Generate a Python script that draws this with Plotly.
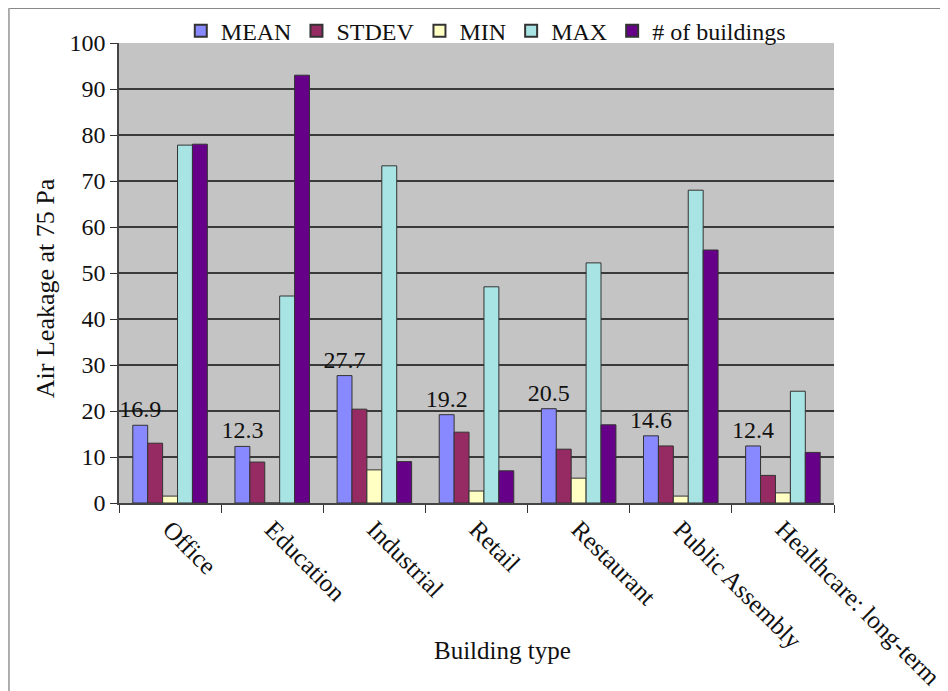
import plotly.graph_objects as go

categories = ["Office", "Education", "Industrial", "Retail", "Restaurant",
              "Public Assembly", "Healthcare: long-term"]
mean_vals = [16.9, 12.3, 27.7, 19.2, 20.5, 14.6, 12.4]
stdev_vals = [13.0, 8.9, 20.4, 15.4, 11.7, 12.4, 6.0]
min_vals = [1.5, 0.0, 7.2, 2.6, 5.4, 1.5, 2.2]
max_vals = [77.8, 45.0, 73.3, 47.0, 52.2, 68.0, 24.3]
n_buildings = [78, 93, 9, 7, 17, 55, 11]
y_ticks = [0, 10, 20, 30, 40, 50, 60, 70, 80, 90, 100]

FONT = "Liberation Serif, Times New Roman, serif"
series = [
    ("MEAN", mean_vals, "#8888FF"),
    ("STDEV", stdev_vals, "#962A62"),
    ("MIN", min_vals, "#FFFFC4"),
    ("MAX", max_vals, "#A8E4E4"),
    ("# of buildings", n_buildings, "#660088"),
]

fig = go.Figure()
for name, vals, color in series:
    kw = {}
    if name == "MEAN":
        kw = dict(text=[f"{v:.1f}" for v in vals], textposition="outside",
                  textfont=dict(family=FONT, size=24, color="#111111"),
                  cliponaxis=False, constraintext="none")
    fig.add_trace(go.Bar(x=categories, y=vals, name=name,
                         marker=dict(color=color, line=dict(color="#333333", width=1)),
                         **kw))

fig.update_layout(
    width=948, height=691,
    barmode="group", bargap=0.27, bargroupgap=0,
    plot_bgcolor="#C4C4C4", paper_bgcolor="white",
    margin=dict(l=111, r=122, t=35, b=196, autoexpand=False),
    font=dict(family=FONT, size=22, color="#111111"),
    showlegend=True,
    legend=dict(orientation="h", xref="container", yref="container",
                x=0.504, xanchor="center", y=0.999, yanchor="top",
                font=dict(family=FONT, size=24), itemwidth=30,
                bgcolor="rgba(0,0,0,0)", traceorder="normal",
                tracegroupgap=0, itemsizing="constant"),
    xaxis=dict(tickangle=45, ticks="outside", tickson="boundaries", ticklen=8,
               tickcolor="#333333", showline=True, linecolor="#444444", linewidth=1.5,
               automargin=False, tickfont=dict(family=FONT, size=25)),
    yaxis=dict(range=[0, 100], tickvals=y_ticks, ticks="outside", ticklen=7,
               tickcolor="#333333", showline=True, linecolor="#444444", linewidth=1.5,
               showgrid=True, gridcolor="#3A3A3A", gridwidth=1.5,
               zeroline=False, automargin=False, tickfont=dict(family=FONT, size=24)),
)

fig.add_annotation(text="Building type", xref="paper", yref="paper",
                   x=0.537, y=-0.32, xanchor="center", yanchor="middle",
                   showarrow=False, font=dict(family=FONT, size=25))
fig.add_annotation(text="Air Leakage at 75 Pa", xref="paper", yref="paper",
                   x=-0.1035, y=0.467, xanchor="center", yanchor="middle",
                   textangle=-90, showarrow=False, font=dict(family=FONT, size=26))

# outer frame lines of the original picture
fig.add_shape(type="line", xref="paper", yref="paper", x0=-0.154, x1=1.2, y0=1.076, y1=1.076,
              line=dict(color="#888888", width=2))
fig.add_shape(type="line", xref="paper", yref="paper", x0=-0.154, x1=-0.154, y0=1.076, y1=-0.5,
              line=dict(color="#AAAAAA", width=2))

fig.write_html("out.html")
